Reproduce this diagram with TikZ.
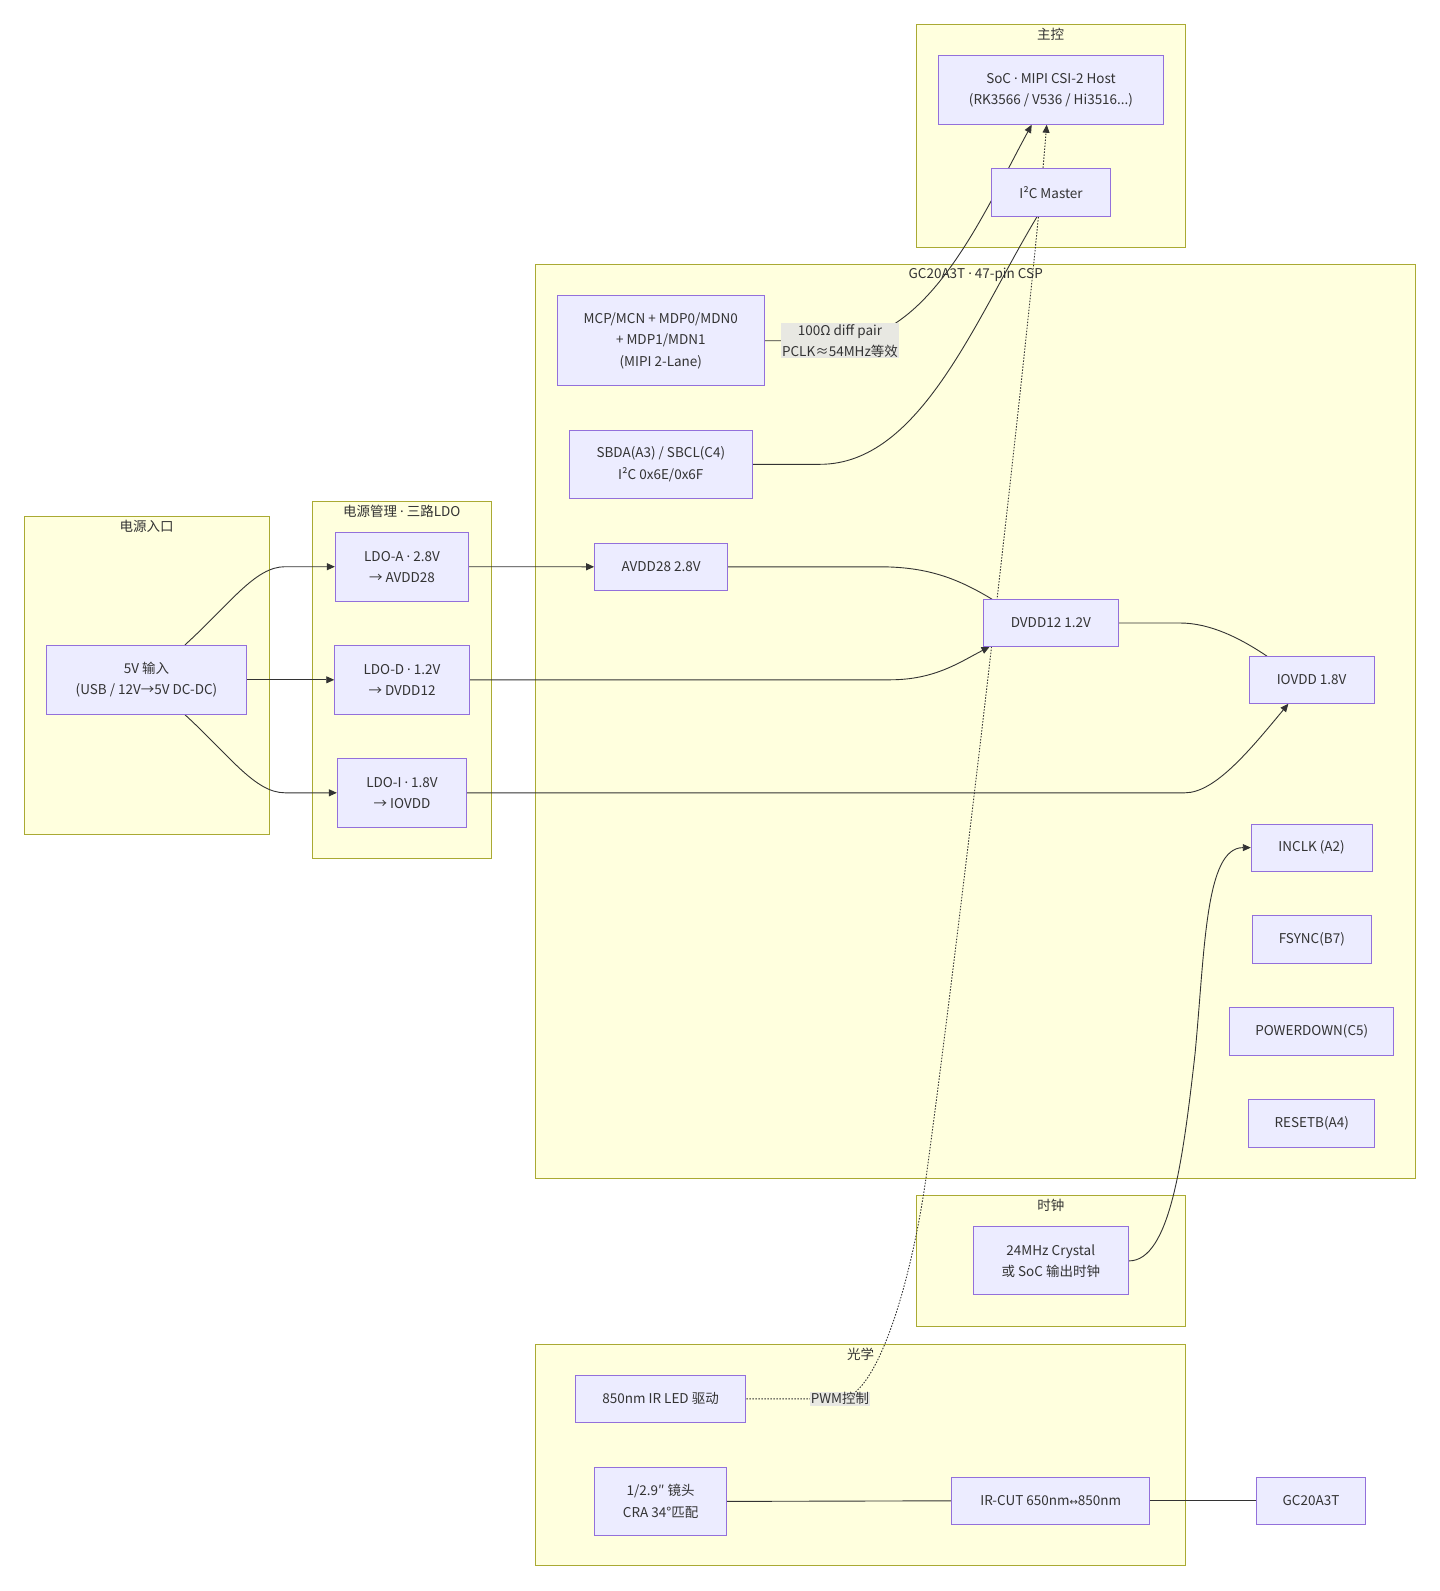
\documentclass[tikz,border=0pt]{standalone}
\usepackage{fontspec}
\setmainfont{Noto Sans CJK SC}
\newfontfamily\latinfont{Noto Sans}
\newfontfamily\arrowfont{DejaVu Sans}
\newcommand\mdot{{\latinfont ·}}
\usetikzlibrary{arrows.meta}
\definecolor{nodefill}{RGB}{236,236,255}
\definecolor{nodeline}{RGB}{147,112,219}
\definecolor{groupfill}{RGB}{255,255,222}
\definecolor{groupline}{RGB}{170,170,51}
\definecolor{linkgray}{RGB}{51,51,51}
\definecolor{labelgray}{RGB}{232,232,226}
\pgfdeclarelayer{groups}
\pgfdeclarelayer{links}
\pgfsetlayers{groups,links,main}

\begin{document}
\begin{tikzpicture}[x=1pt, y=-1pt,
    part/.style={draw=nodeline, fill=nodefill, line width=0.9pt, text=linkgray, align=center,
        inner sep=0pt, font=\fontsize{13.5}{21.3}\selectfont},
    boxsize/.style 2 args={minimum width=#1pt, minimum height=#2pt},
    group/.style={draw=groupline, fill=groupfill, line width=0.9pt},
    grouptitle/.style={text=linkgray, anchor=north, inner sep=0pt, font=\fontsize{13.5}{16}\selectfont},
    link/.style={draw=linkgray, line width=0.9pt},
    linkarrow/.style={link, -{Triangle[length=8pt,width=7pt]}},
    dotlink/.style={link, dash pattern=on 1.5pt off 1.5pt, -{Triangle[length=8pt,width=7pt]}},
    linklabel/.style={fill=labelgray, text=linkgray, align=center, inner sep=1pt,
        font=\fontsize{13.5}{21.3}\selectfont}]
    \useasboundingbox (0,0) rectangle (1440,1591);

    % Groups
    \begin{pgfonlayer}{groups}
        \draw[group] (916,24.3) rectangle (1185.5,247);
        \draw[group] (535.8,264.5) rectangle (1415.6,1178.2);
        \draw[group] (24.3,516.7) rectangle (269,834.3);
        \draw[group] (312.7,501.7) rectangle (491,858.3);
        \draw[group] (916.4,1195.4) rectangle (1185.3,1326.3);
        \draw[group] (535.8,1344.6) rectangle (1185.3,1565.8);
        \node[grouptitle] (t-host) at (1050.7,27.8) {主控};
        \node[grouptitle] (t-sensor) at (975.7,268.2) {GC20A3T \mdot{} 47-pin CSP};
        \node[grouptitle] (t-input) at (146.7,520.2) {电源入口};
        \node[grouptitle] (t-ldo) at (401.8,505) {电源管理 \mdot{} 三路LDO};
        \node[grouptitle] (t-clock) at (1050.8,1199) {时钟};
        \node[grouptitle] (t-optics) at (860.5,1347.8) {光学};
    \end{pgfonlayer}

    % Host
    \node[part, boxsize={225}{68.6}] (soc) at (1051,90) {SoC \mdot{} MIPI CSI-2 Host\\(RK3566 / V536 / Hi3516...)};
    \node[part, boxsize={118.6}{48}] (i2cm) at (1051,192.3) {I²C Master};

    % Sensor pins
    \node[part, boxsize={207}{90}] (mcp) at (660.8,340.7) {MCP/MCN + MDP0/MDN0\\+ MDP1/MDN1\\(MIPI 2-Lane)};
    \node[part, boxsize={183.7}{68.7}] (sbda) at (660.8,464.3) {SBDA(A3) / SBCL(C4)\\I²C 0x6E/0x6F};
    \node[part, boxsize={133}{47.6}] (avdd) at (661.1,566.8) {AVDD28 2.8V};
    \node[part, boxsize={135}{46.7}] (dvdd) at (1050.8,623) {DVDD12 1.2V};
    \node[part, boxsize={124.8}{46.7}] (iovdd) at (1311.6,680) {IOVDD 1.8V};
    \node[part, boxsize={120.7}{47.3}] (inclk) at (1311.6,847.6) {INCLK (A2)};
    \node[part, boxsize={119}{47.6}] (fsync) at (1311.8,939.5) {FSYNC(B7)};
    \node[part, boxsize={164}{48}] (pwdn) at (1311.7,1031.3) {POWERDOWN(C5)};
    \node[part, boxsize={126}{48}] (rstb) at (1311.7,1123.3) {RESETB(A4)};

    % Power
    \node[part, boxsize={200.4}{69}] (vin) at (146.5,679.8) {5V 输入\\(USB / 12V→5V DC-DC)};
    \node[part, boxsize={133.4}{68.7}] (ldoa) at (402,566.7) {LDO-A \mdot{} 2.8V\\→ AVDD28};
    \node[part, boxsize={134.6}{69}] (ldod) at (402,679.8) {LDO-D \mdot{} 1.2V\\→ DVDD12};
    \node[part, boxsize={129.4}{69}] (ldoi) at (402,792.8) {LDO-I \mdot{} 1.8V\\→ IOVDD};

    % Clock and optics
    \node[part, boxsize={155.3}{68}] (xtal) at (1050.8,1260.9) {24MHz Crystal\\或 SoC 输出时钟};
    \node[part, boxsize={170.5}{47.7}] (irled) at (660.6,1398.8) {850nm IR LED 驱动};
    \node[part, boxsize={132}{68}] (lens) at (660.6,1501.4) {1/2.9″ 镜头\\CRA 34°匹配};
    \node[part, boxsize={198}{46.7}] (ircut) at (1050.8,1500.8) {IR-CUT 650nm{\arrowfont\fontsize{10}{12}\selectfont ↔}850nm};
    \node[part, boxsize={109.6}{46.7}] (sensor) at (1311,1500.8) {GC20A3T};

    % Link labels
    \node[linklabel] (diffl) at (840,340.8) {100Ω diff pair\\PCLK≈54MHz等效};
    \node[linklabel] (pwml) at (840,1398.8) {PWM控制};

    % Links
    \begin{pgfonlayer}{links}
        \draw[linkarrow] ([xshift=38.5pt]vin.north) .. controls (230,604) and (255,566.7) .. (285,566.7) -- (ldoa.west);
        \draw[linkarrow] (vin.east) -- (ldod.west);
        \draw[linkarrow] ([xshift=38.5pt]vin.south) .. controls (230,756) and (255,792.8) .. (285,792.8) -- (ldoi.west);
        \draw[linkarrow] (ldoa.east) -- (avdd.west);
        \draw[linkarrow] (ldod.east) -- (890,679.8) .. controls (935,679.8) and (960,662) .. ([xshift=6.7pt]dvdd.south west);
        \draw[linkarrow] (ldoi.east) -- (1185,792.8) .. controls (1215,792.8) and (1250,750) .. ([xshift=39.6pt]iovdd.south west);
        \draw[link] (avdd.east) -- (880,566.8) .. controls (930,566.8) and (960,580) .. ([xshift=9.2pt]dvdd.north west);
        \draw[link] (dvdd.east) -- (1180,623) .. controls (1210,623) and (1240,638) .. ([xshift=18.3pt]iovdd.north west);
        \draw[link] (mcp.east) -- (diffl.center);
        \draw[linkarrow] (diffl.center) .. controls (930,340.8) and (985,210) .. ([xshift=-19.3pt]soc.south);
        \draw[link] (sbda.east) -- (820,464.3) .. controls (920,464.3) and (975,320) .. ([xshift=-14pt]i2cm.south);
        \draw[dotlink] (irled.east) -- (pwml.center) .. controls (875,1398.8) and (910,1290) .. (926,1178)
            .. controls (960,930) and (1030,330) .. ([xshift=-4.3pt]soc.south);
        \draw[linkarrow] (xtal.east) .. controls (1170,1260.9) and (1183,1160) .. (1195,1054)
            .. controls (1205,950) and (1205,847.6) .. (inclk.west);
        \draw[link] (lens.east) -- (ircut.west);
        \draw[link] (ircut.east) -- (sensor.west);
    \end{pgfonlayer}
\end{tikzpicture}
\end{document}
